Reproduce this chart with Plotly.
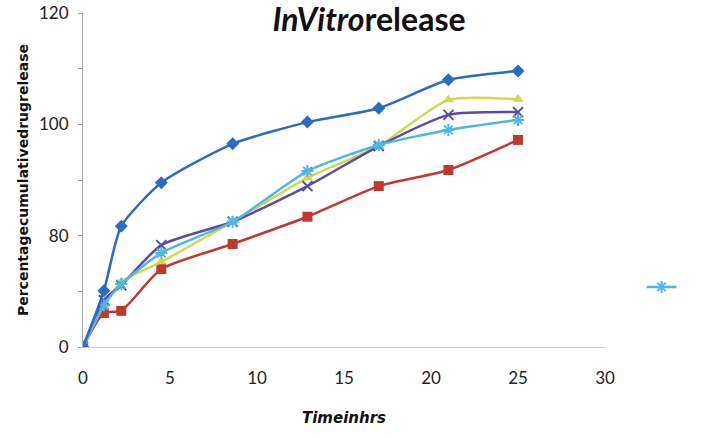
import plotly.graph_objects as go

# Time in hours
time_hrs = [0, 1.2, 2.2, 4.5, 8.6, 12.9, 17.0, 21.0, 25.0]

# Y values read on the displayed axis scale (bottom label "0" sits at 60 on this scale)
series_blue = [60, 70.1, 81.7, 89.5, 96.5, 100.4, 102.9, 108.0, 109.6]
series_red = [60, 66.1, 66.5, 74.0, 78.5, 83.4, 88.9, 91.8, 97.2]
series_yellow = [60, 67.5, 71.7, 75.3, 82.5, 90.4, 96.1, 104.4, 104.5]
series_purple = [60, 68.4, 71.1, 78.3, 82.5, 88.9, 96.1, 101.7, 102.2]
series_cyan = [60, 67.5, 71.3, 76.9, 82.5, 91.6, 96.3, 99.0, 100.8]

y_tickvals = [60, 70, 80, 90, 100, 110, 120]
y_ticktext = ["0", "", "80", "", "100", "", "120"]
x_tickvals = [0, 5, 10, 15, 20, 25, 30]

fig = go.Figure()

def add(y, color, symbol, size, show=False, lw=2.5, mline=None):
    marker = dict(symbol=symbol, size=size, color=color)
    if mline:
        marker["line"] = dict(color=color, width=mline)
    fig.add_trace(go.Scatter(
        x=time_hrs, y=y, mode="lines+markers",
        line=dict(color=color, width=lw, shape="spline", smoothing=0.6),
        marker=marker, name=" ", showlegend=show))

add(series_red, "#c0392f", "square", 10)
add(series_yellow, "#cfd94a", "triangle-up", 10)
add(series_purple, "#5b4aa6", "x-thin-open", 10, mline=2)
add(series_cyan, "#4db8e3", "asterisk-open", 10, show=True, mline=2)
add(series_blue, "#2a6cc0", "diamond", 10)

fig.update_layout(
    width=725, height=438,
    margin=dict(l=83, r=120, t=13, b=91),
    paper_bgcolor="white", plot_bgcolor="white",
    font=dict(family="Lato, Open Sans, sans-serif", color="#222"),
    title=dict(text="<b><i>InVitro</i>release</b>", x=0.509, xanchor="center",
               xref="container", y=0.955, yref="container", yanchor="middle",
               font=dict(size=32, color="#111")),
    xaxis=dict(range=[0, 30], tickvals=x_tickvals, showgrid=False, zeroline=False,
               showline=True, linecolor="#cccccc", linewidth=1, automargin=False,
               ticks="", ticklabelstandoff=16, ticklabeloverflow="allow",
               tickfont=dict(size=17, color="#222"),
               title=dict(text="<b><i>Timeinhrs</i></b>",
                          font=dict(family="DejaVu Sans", size=15, color="#111"),
                          standoff=25)),
    yaxis=dict(range=[60, 120], tickvals=y_tickvals, ticktext=y_ticktext,
               showgrid=False, zeroline=False, showline=True, linecolor="#aaaaaa",
               linewidth=1, ticks="outside", ticklen=4, tickcolor="#aaaaaa",
               automargin=False, ticklabelstandoff=6, ticklabeloverflow="allow",
               tickfont=dict(size=17, color="#222"),
               title=dict(text="<b>Percentagecumulativedrugrelease</b>",
                          font=dict(family="DejaVu Sans", size=14, color="#111"),
                          standoff=7)),
    legend=dict(x=1.07, xanchor="left", y=0.18, yanchor="middle",
                bgcolor="rgba(0,0,0,0)", font=dict(size=12)),
)

fig.write_html("out.html", config={"displayModeBar": False},
               post_script="document.body.style.margin='0';")
